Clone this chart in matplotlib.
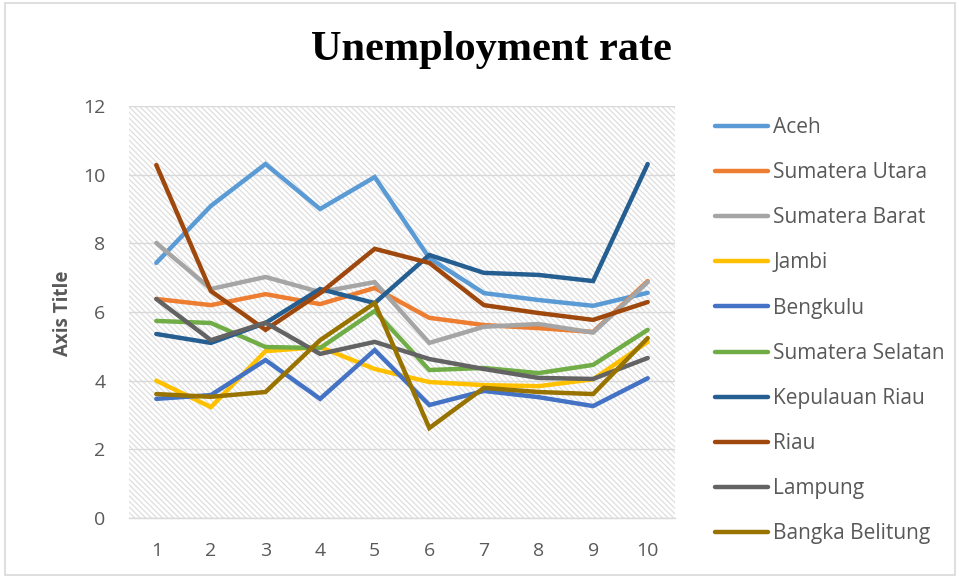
import matplotlib
matplotlib.use("Agg")
import matplotlib.pyplot as plt
from matplotlib.patches import Rectangle

x_vals = [1, 2, 3, 4, 5, 6, 7, 8, 9, 10]

aceh = [7.43, 9.09, 10.31, 9.0, 9.93, 7.57, 6.55, 6.35, 6.18, 6.56]
sumatera_utara = [6.38, 6.2, 6.52, 6.23, 6.7, 5.83, 5.62, 5.53, 5.42, 6.9]
sumatera_barat = [8.01, 6.67, 7.02, 6.58, 6.87, 5.1, 5.57, 5.65, 5.4, 6.87]
jambi = [4.0, 3.23, 4.86, 4.98, 4.34, 3.96, 3.87, 3.84, 4.04, 5.13]
bengkulu = [3.47, 3.58, 4.6, 3.47, 4.89, 3.29, 3.7, 3.52, 3.26, 4.07]
sumatera_selatan = [5.74, 5.68, 4.98, 4.95, 6.03, 4.31, 4.37, 4.22, 4.46, 5.48]
kepulauan_riau = [5.36, 5.1, 5.68, 6.67, 6.26, 7.66, 7.14, 7.08, 6.9, 10.31]
riau = [10.28, 6.61, 5.48, 6.55, 7.84, 7.43, 6.2, 5.97, 5.77, 6.29]
lampung = [6.38, 5.18, 5.69, 4.78, 5.13, 4.63, 4.34, 4.08, 4.05, 4.66]
bangka_belitung = [3.61, 3.53, 3.67, 5.18, 6.26, 2.62, 3.79, 3.67, 3.61, 5.24]

series_names = ["Aceh", "Sumatera Utara", "Sumatera Barat", "Jambi", "Bengkulu",
                "Sumatera Selatan", "Kepulauan Riau", "Riau", "Lampung", "Bangka Belitung"]
series_values = [aceh, sumatera_utara, sumatera_barat, jambi, bengkulu,
                 sumatera_selatan, kepulauan_riau, riau, lampung, bangka_belitung]
series_colors = ["#5B9BD5", "#ED7D31", "#A5A5A5", "#FFC000", "#4472C4",
                 "#70AD47", "#255E91", "#9E480E", "#636363", "#997300"]

y_ticks = [0, 2, 4, 6, 8, 10, 12]

plt.rcParams['font.family'] = ['Open Sans', 'DejaVu Sans']
plt.rcParams['hatch.linewidth'] = 0.9

W, H = 959, 578
fig = plt.figure(figsize=(W / 100, H / 100), dpi=100)
ax = fig.add_axes([129 / W, 1 - 518 / H, (675 - 129) / W, (518 - 106) / H])

ax.add_patch(Rectangle((0, 0), 1, 1, transform=ax.transAxes, facecolor='white',
                       edgecolor='#dedede', hatch='\\\\\\\\\\\\', lw=0, zorder=0))

for name, vals, col in zip(series_names, series_values, series_colors):
    ax.plot(x_vals, vals, color=col, lw=3.2, label=name, solid_capstyle='round',
            solid_joinstyle='miter', zorder=3)

ax.set_xlim(0.5, 10.5)
ax.set_ylim(0, 12)
ax.set_xticks(x_vals)
ax.set_yticks(y_ticks)
ax.grid(axis='y', color='#d9d9d9', lw=1.0, zorder=1)
ax.set_axisbelow(True)
for s in ['top', 'right', 'left']:
    ax.spines[s].set_visible(False)
ax.spines['bottom'].set_color('#d9d9d9')
ax.spines['bottom'].set_linewidth(1.0)
ax.tick_params(axis='both', length=0, labelsize=14, labelcolor='#595959')
ax.tick_params(axis='x', pad=17)
ax.tick_params(axis='y', pad=17)

fig.text(63 / W, 1 - 313 / H, "Axis Title", rotation=90, ha='center', va='center',
         fontsize=13.5, fontweight='bold', color='#595959')

fig.text(491 / W, 1 - 50 / H, "Unemployment rate", ha='center', va='center',
         fontsize=30.5, fontweight='bold', family='Liberation Serif', color='black')

leg = fig.legend(loc='upper left', bbox_to_anchor=(715 / W, 1 - 117 / H), frameon=False,
                 fontsize=15, handlelength=2.55, handletextpad=0.25, labelspacing=1.16,
                 labelcolor='#595959', borderaxespad=0, borderpad=0)

fig.patches.append(Rectangle((5 / W, 3 / H), 950 / W, 572 / H, transform=fig.transFigure,
                             fill=False, edgecolor='#d9d9d9', lw=1.2))

fig.savefig("out.png", dpi=100)
